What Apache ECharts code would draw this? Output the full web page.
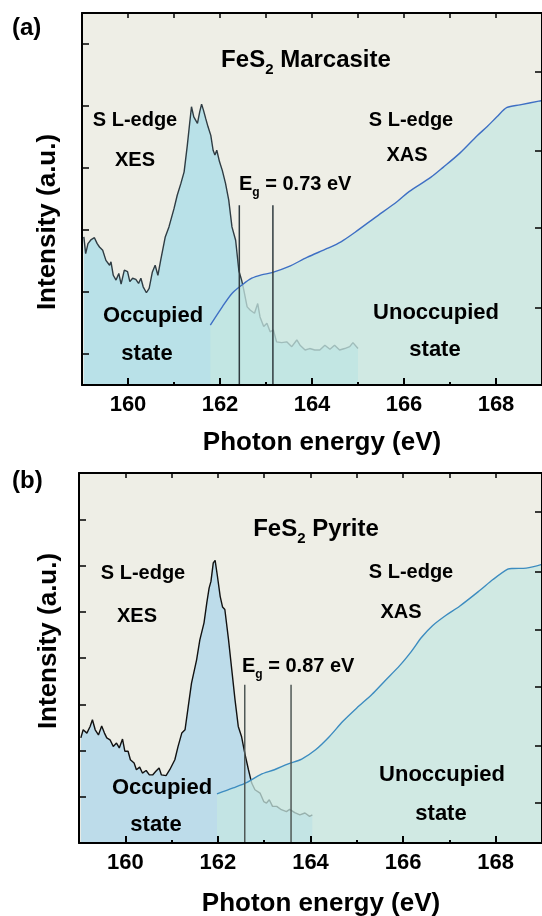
<!DOCTYPE html>
<html>
<head>
<meta charset="utf-8">
<script src="https://cdn.jsdelivr.net/npm/echarts@6/dist/echarts.min.js"></script>
<style>
html, body { margin: 0; padding: 0; background: #fff; }
#chart { width: 542px; height: 916px; }
</style>
</head>
<body>
<div id="chart"></div>
<script>
// values: energy in eV, intensity in % of the frame height

// (a) marcasite, XES
const xesA_E = [159.04,159.08,159.13,159.20,159.27,159.33,159.38,159.45,159.52,159.60,159.63,159.68,159.74,159.80,159.85,159.92,159.99,160.04,160.10,160.17,160.23,160.28,160.33,160.40,160.46,160.53,160.59,160.65,160.71,160.81,160.89,161.00,161.07,161.15,161.22,161.29,161.34,161.38,161.43,161.47,161.51,161.56,161.60,161.64,161.69,161.74,161.80,161.85,161.89,161.93,161.99,162.05,162.12,162.19,162.26,162.34,162.41,162.47,162.51,162.59,162.66,162.75,162.82,162.87,162.95,163.02,163.09,163.16,163.23,163.34,163.45,163.56,163.67,163.74,163.85,163.95,164.06,164.17,164.28,164.39,164.49,164.60,164.71,164.82,164.89,165.00];
const xesA_I = [39.8,35.3,38.0,39.1,39.6,38.0,37.1,36.2,33.5,32.2,33.1,29.5,28.2,30.0,27.1,30.9,30.5,27.8,28.7,28.4,27.3,28.7,26.4,24.8,26.0,30.4,32.2,29.5,33.5,39.8,42.5,47.4,51.0,54.2,57.3,64.5,70.3,74.8,72.1,71.2,70.3,73.5,75.5,73.9,71.6,69.4,67.1,63.1,61.8,63.1,60.0,57.7,54.2,49.7,42.5,38.9,30.7,28.2,26.0,21.0,20.1,19.3,21.9,18.3,15.7,16.6,14.3,14.8,11.6,11.4,11.6,10.3,12.1,10.7,9.4,9.8,9.4,9.4,10.7,9.6,10.7,9.4,9.8,10.3,11.4,9.8];

// (a) marcasite, XAS
const xasA_E = [161.79,162.05,162.26,162.48,162.69,162.90,163.13,163.49,163.89,164.33,164.63,164.93,165.37,165.86,166.11,166.58,166.85,167.22,167.59,167.81,168.02,168.24,168.52,168.93,169.0];
const xasA_I = [16.1,21.0,24.6,26.9,28.7,29.6,30.2,31.8,34.3,36.7,38.5,41.0,45.0,49.4,52.0,55.8,58.5,62.4,67.0,69.5,72.1,74.6,75.3,76.3,76.5];

// (b) pyrite, XES
const xesB_E = [159.04,159.09,159.17,159.24,159.29,159.35,159.42,159.49,159.55,159.60,159.67,159.74,159.81,159.87,159.94,159.99,160.06,160.11,160.19,160.24,160.31,160.37,160.45,160.52,160.59,160.66,160.73,160.78,160.88,160.96,161.07,161.14,161.22,161.29,161.36,161.43,161.54,161.61,161.70,161.76,161.81,161.85,161.90,161.94,161.99,162.05,162.10,162.15,162.23,162.30,162.37,162.44,162.51,162.58,162.66,162.73,162.80,162.91,162.99,163.05,163.11,163.18,163.27,163.37,163.48,163.55,163.66,163.77,163.88,163.98,164.04];
const xesB_I = [28.4,30.6,29.7,31.5,33.3,30.6,29.2,31.6,29.7,28.4,27.9,26.1,27.0,25.7,28.1,24.8,24.8,22.5,21.6,19.8,20.5,18.9,19.6,18.4,18.4,19.4,20.3,18.4,18.2,19.8,22.5,26.1,29.7,30.6,36.9,43.2,49.5,54.9,59.5,64.9,68.9,70.7,75.7,76.4,72.1,66.6,63.8,63.1,54.9,46.8,38.7,31.5,28.8,24.3,19.8,16.2,14.4,13.5,11.2,10.8,11.7,9.9,9.9,9.0,8.5,9.1,8.2,7.6,8.1,7.2,7.6];

// (b) pyrite, XAS
const xasB_E = [161.98,162.33,162.63,162.92,163.22,163.52,163.81,164.11,164.41,164.70,165.00,165.33,165.59,165.93,166.18,166.40,166.64,166.92,167.22,167.66,167.94,168.26,168.37,168.66,169.0];
const xasB_I = [13.3,14.9,16.4,18.5,19.8,21.4,22.7,25.2,28.8,32.9,36.5,40.2,43.6,48.0,51.8,55.6,58.8,61.5,64.0,68.3,71.2,74.0,74.2,74.3,75.3];

// band-gap markers: [left edge, right edge], top of the lines
const gapA = [162.42, 163.15], gapTopA = 48.3;
const gapB = [162.58, 163.58], gapTopB = 42.8;

// ticks
const xLabels = [160, 162, 164, 166, 168];
const xMinor = [159, 161, 163, 165, 167];
const xAll = [160, 161, 162, 163, 164, 165, 166, 167, 168];
const yTicksLeftA = [8.33, 25, 41.7, 58.3, 75, 91.7];
const yTicksRightA = [20.9, 42.2, 63.1, 84.3];
const yTicksLeftB = [12.5, 25, 37.5, 50, 62.5, 75, 87.5];
const yTicksRightB = [10.8, 26.4, 42.1, 57.6, 73.4, 89.6];

const FONT = '"Liberation Sans", Arial, Helvetica, sans-serif';

function zip(a, b) { return a.map((v, i) => [v, b[i]]); }

const chart = echarts.init(document.getElementById('chart'), null, { renderer: 'canvas' });

const grids = [
  { left: 82, top: 13, right: -3, bottom: 531, show: true, backgroundColor: '#eeeee6', borderWidth: 0 },
  { left: 79, top: 473, right: -2, bottom: 73, show: true, backgroundColor: '#eeeee6', borderWidth: 0 }
];

const xAxes = [], yAxes = [];
[0, 1].forEach(g => {
  const base = { type: 'value', gridIndex: g, min: 159, max: 169, z: 10, splitLine: { show: false } };
  xAxes.push(Object.assign({}, base, {
    position: 'bottom',
    axisLine: { show: true, onZero: false, lineStyle: { color: '#000', width: 2 } },
    axisTick: { show: true, inside: true, length: 7, customValues: xLabels, lineStyle: { color: '#000', width: 2 } },
    axisLabel: { show: true, customValues: xLabels, margin: 9, color: '#000', fontSize: 22, fontWeight: 'bold', fontFamily: FONT }
  }));
  xAxes.push(Object.assign({}, base, {
    position: 'bottom',
    axisLine: { show: false, onZero: false },
    axisTick: { show: true, inside: true, length: 3, customValues: xMinor, lineStyle: { color: '#000', width: 2 } },
    axisLabel: { show: false }
  }));
  xAxes.push(Object.assign({}, base, {
    position: 'top',
    axisLine: { show: true, onZero: false, lineStyle: { color: '#000', width: 2 } },
    axisTick: { show: true, inside: true, length: 5, customValues: xAll, lineStyle: { color: '#000', width: 1.5 } },
    axisLabel: { show: false }
  }));
  yAxes.push({
    type: 'value', gridIndex: g, min: 0, max: 100, position: 'left', z: 10,
    splitLine: { show: false },
    axisLine: { show: true, onZero: false, lineStyle: { color: '#000', width: 2 } },
    axisTick: { show: true, inside: true, length: 7, customValues: g === 0 ? yTicksLeftA : yTicksLeftB, lineStyle: { color: '#000', width: 1.5 } },
    axisLabel: { show: false }
  });
  yAxes.push({
    type: 'value', gridIndex: g, min: 0, max: 100, position: 'right', z: 10,
    splitLine: { show: false },
    axisLine: { show: true, onZero: false, lineStyle: { color: '#000', width: 2 } },
    axisTick: { show: true, inside: true, length: 7, customValues: g === 0 ? yTicksRightA : yTicksRightB, lineStyle: { color: '#000', width: 1.5 } },
    axisLabel: { show: false }
  });
});

function xes(g, E, I, lineColor, fill) {
  return {
    type: 'line', xAxisIndex: g * 3, yAxisIndex: g * 2, data: zip(E, I), showSymbol: false, symbol: 'none', z: 2,
    lineStyle: { color: lineColor, width: 1.4 }, areaStyle: { color: fill, opacity: 1 }, silent: true
  };
}
function xas(g, E, I, lineColor) {
  return {
    type: 'line', xAxisIndex: g * 3, yAxisIndex: g * 2, data: zip(E, I), showSymbol: false, symbol: 'none', z: 3, smooth: 0.3,
    lineStyle: { color: lineColor, width: 1.4 }, areaStyle: { color: 'rgb(198,231,225)', opacity: 0.75 }, silent: true
  };
}
function gapLine(g, e, top, color) {
  return {
    type: 'line', xAxisIndex: g * 3, yAxisIndex: g * 2, data: [[e, 0], [e, top]], showSymbol: false, symbol: 'none', z: 4,
    lineStyle: { color: color, width: 1.5 }, silent: true
  };
}

const series = [
  xes(0, xesA_E, xesA_I, '#2f3c43', '#b9e1e8'),
  xas(0, xasA_E, xasA_I, '#3e6fc4'),
  gapLine(0, gapA[0], gapTopA, '#2f3a3f'),
  gapLine(0, gapA[1], gapTopA, '#2f3a3f'),
  xes(1, xesB_E, xesB_I, '#111', '#bddcea'),
  xas(1, xasB_E, xasB_I, '#3d8cc0'),
  gapLine(1, gapB[0], gapTopB, '#4f5856'),
  gapLine(1, gapB[1], gapTopB, '#4f5856')
];

function txt(s, x, y, size, opts) {
  return Object.assign({
    type: 'text', x: x, y: y, z: 20,
    style: { text: s, fill: '#000', fontSize: size, fontWeight: 'bold', fontFamily: FONT, align: 'center', verticalAlign: 'middle' }
  }, opts || {});
}
function subText(main1, sub, main2, x, y, size, subSize, lh, align) {
  return {
    type: 'text', x: x, y: y, z: 20,
    style: {
      text: '{m|' + main1 + '}{s|' + sub + '}{m|' + main2 + '}',
      align: align, verticalAlign: 'middle',
      rich: {
        m: { fontSize: size, fontWeight: 'bold', fontFamily: FONT, fill: '#000', lineHeight: lh, verticalAlign: 'middle' },
        s: { fontSize: subSize, fontWeight: 'bold', fontFamily: FONT, fill: '#000', verticalAlign: 'bottom' }
      }
    }
  };
}

const graphic = [
  // panel (a)
  txt('(a)', 12, 28, 24, { style: { text: '(a)', fill: '#000', fontSize: 24, fontWeight: 'bold', fontFamily: FONT, align: 'left', verticalAlign: 'middle' } }),
  subText('FeS', '2', ' Marcasite', 306, 60, 24, 15, 34, 'center'),
  txt('S L-edge', 135, 120, 20),
  txt('XES', 135, 160, 20),
  txt('S L-edge', 411, 120, 20),
  txt('XAS', 407, 155, 20),
  subText('E', 'g', ' = 0.73 eV', 239, 184, 20, 12, 30, 'left'),
  txt('Occupied', 153, 316, 22),
  txt('state', 147, 354, 22),
  txt('Unoccupied', 436, 313, 22),
  txt('state', 435, 350, 22),
  txt('Intensity (a.u.)', 48, 222, 26, { rotation: Math.PI / 2 }),
  txt('Photon energy (eV)', 322, 443, 26),
  // panel (b)
  txt('(b)', 12, 481, 24, { style: { text: '(b)', fill: '#000', fontSize: 24, fontWeight: 'bold', fontFamily: FONT, align: 'left', verticalAlign: 'middle' } }),
  subText('FeS', '2', ' Pyrite', 316, 529, 24, 15, 34, 'center'),
  txt('S L-edge', 143, 573, 20),
  txt('XES', 137, 616, 20),
  txt('S L-edge', 411, 572, 20),
  txt('XAS', 401, 612, 20),
  subText('E', 'g', ' = 0.87 eV', 242, 666, 20, 12, 30, 'left'),
  txt('Occupied', 162, 788, 22),
  txt('state', 156, 825, 22),
  txt('Unoccupied', 442, 775, 22),
  txt('state', 441, 814, 22),
  txt('Intensity (a.u.)', 49, 641, 26, { rotation: Math.PI / 2 }),
  txt('Photon energy (eV)', 321, 904, 26)
];

chart.setOption({
  animation: false,
  backgroundColor: '#fff',
  grid: grids,
  xAxis: xAxes,
  yAxis: yAxes,
  series: series,
  graphic: graphic
});
</script>
</body>
</html>
